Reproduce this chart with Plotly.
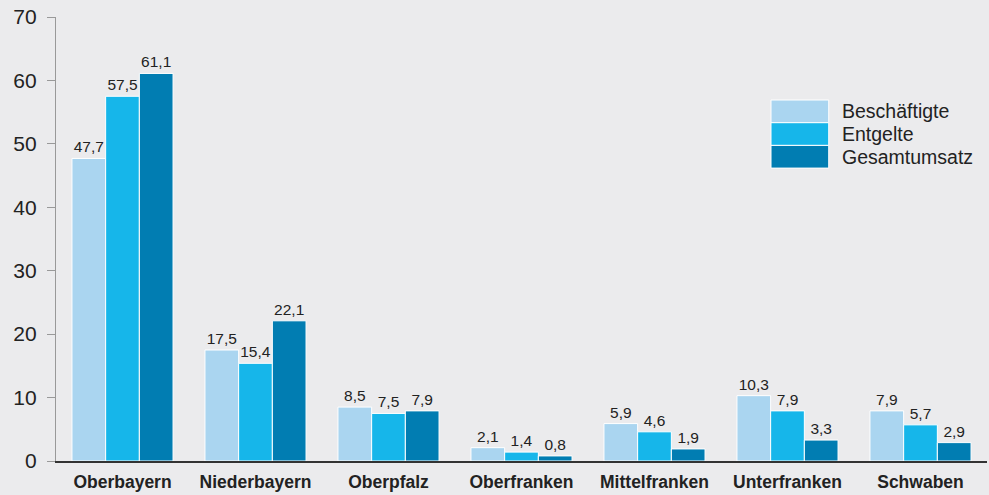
import plotly.graph_objects as go

categories = ["Oberbayern", "Niederbayern", "Oberpfalz", "Oberfranken",
              "Mittelfranken", "Unterfranken", "Schwaben"]
series_names = ["Beschäftigte", "Entgelte", "Gesamtumsatz"]
beschaeftigte = [47.7, 17.5, 8.5, 2.1, 5.9, 10.3, 7.9]
entgelte = [57.5, 15.4, 7.5, 1.4, 4.6, 7.9, 5.7]
gesamtumsatz = [61.1, 22.1, 7.9, 0.8, 1.9, 3.3, 2.9]
y_ticks = [0, 10, 20, 30, 40, 50, 60, 70]

colors = ["#aad5f0", "#16b6ea", "#017db2"]
bg = "#ebebed"
font_family = "Liberation Sans, Arial, sans-serif"

fig = go.Figure()
for name, vals, col in zip(series_names, [beschaeftigte, entgelte, gesamtumsatz], colors):
    fig.add_trace(go.Bar(
        x=categories, y=vals, name=name,
        marker=dict(color=col, line=dict(color="white", width=1)),
        text=[f"{v:.1f}".replace(".", ",") for v in vals],
        textposition="outside",
        textfont=dict(size=15.5, color="#222222", family=font_family),
        cliponaxis=False,
        showlegend=False,
    ))

fig.update_layout(
    width=989, height=495,
    paper_bgcolor=bg, plot_bgcolor=bg,
    margin=dict(l=56, r=2, t=17, b=34, autoexpand=False),
    barmode="group", bargap=0.24, bargroupgap=0,
    font=dict(family=font_family, color="#222222"),
    uniformtext=dict(minsize=8, mode="show"),
    xaxis=dict(
        automargin=False,
        showgrid=False, showline=True, linecolor="#333333", linewidth=1.5,
        ticks="", tickfont=dict(size=17.5, color="#222222", family=font_family, weight="bold"),
        ticklabelstandoff=4,
    ),
    yaxis=dict(
        automargin=False,
        range=[0, 70], tickvals=y_ticks, showgrid=False, zeroline=False,
        showline=True, linecolor="#999999", linewidth=1.2,
        ticks="outside", ticklen=8, tickcolor="#999999", tickwidth=1.2,
        tickfont=dict(size=21, color="#222222"),
        ticklabelstandoff=6,
    ),
)

# manual legend (large swatches, as in the reference)
leg_x0, leg_x1 = 0.768, 0.830
row_h = 0.0511
top = 0.813
for i, (name, col) in enumerate(zip(series_names, colors)):
    y1 = top - i * row_h
    y0 = y1 - row_h
    fig.add_shape(type="rect", xref="paper", yref="paper",
                  x0=leg_x0, x1=leg_x1, y0=y0, y1=y1,
                  fillcolor=col, line=dict(color="white", width=1))
    fig.add_annotation(xref="paper", yref="paper", x=0.842, y=(y0 + y1) / 2,
                       text=name, showarrow=False, xanchor="left", yanchor="middle",
                       xshift=0, font=dict(size=19.5, color="#222222", family=font_family))

fig.write_html("out.html",
               config={"displayModeBar": False},
               post_script="document.body.style.margin='0';document.body.style.background='%s';" % bg)
